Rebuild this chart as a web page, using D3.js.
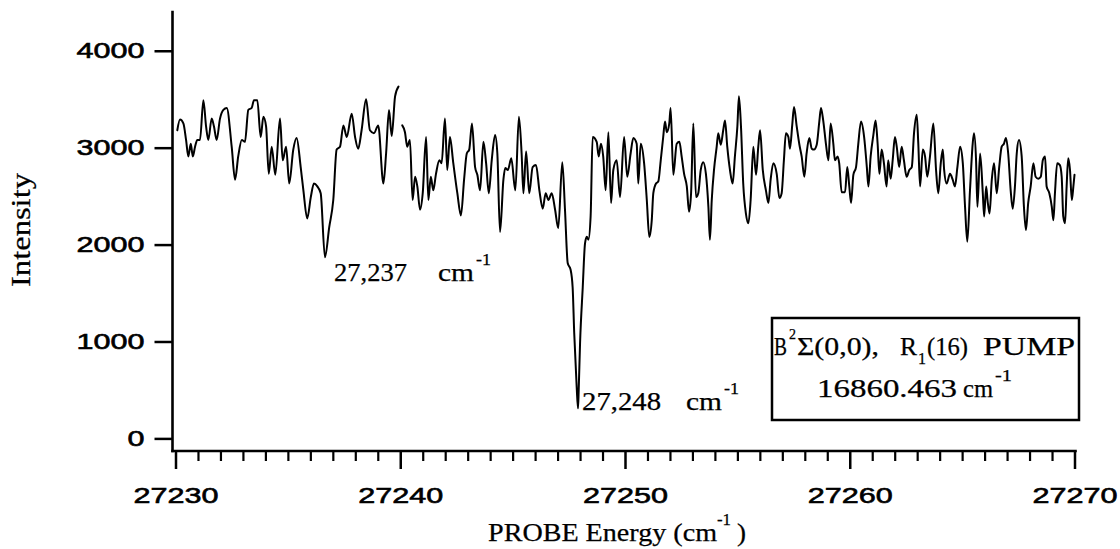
<!DOCTYPE html>
<html>
<head>
<meta charset="utf-8">
<script src="https://cdn.jsdelivr.net/npm/d3@7"></script>
<style>
  html, body { margin: 0; padding: 0; background: #fff; }
  svg { display: block; }
</style>
</head>
<body>
<svg id="chart" width="1120" height="549"></svg>
<script>
// Probe scan: [probe energy (cm^-1), intensity]. The recording has a short gap near 27240.
const spectrumLow = [
  [27230.08,3180],[27230.20,3290],[27230.35,3250],[27230.47,3080],[27230.57,2910],[27230.68,3040],
  [27230.77,2910],[27230.87,3010],[27230.97,3080],[27231.09,3080],[27231.24,3490],[27231.36,3220],
  [27231.46,3080],[27231.61,3300],[27231.71,3220],[27231.83,3080],[27231.98,3300],[27232.13,3390],
  [27232.28,3410],[27232.50,3010],[27232.65,2670],[27232.79,2910],[27232.95,3080],[27233.09,3060],
  [27233.24,3390],[27233.39,3410],[27233.49,3490],[27233.64,3490],[27233.79,3110],[27233.91,3320],
  [27234.03,3220],[27234.15,2730],[27234.28,3010],[27234.44,2720],[27234.65,3300],[27234.77,2870],
  [27234.92,3010],[27235.06,2630],[27235.24,2980],[27235.39,3100],[27235.57,2800],[27235.69,2560],
  [27235.86,2270],[27236.02,2490],[27236.16,2630],[27236.31,2600],[27236.46,2530],[27236.65,1870],
  [27236.84,2180],[27237.02,2460],[27237.17,2980],[27237.32,3010],[27237.47,3230],[27237.62,3110],
  [27237.84,3350],[27237.99,3110],[27238.13,2990],[27238.28,3180],[27238.48,3500],[27238.65,3180],
  [27238.83,3150],[27239.02,3230],[27239.25,2630],[27239.37,2940],[27239.50,3390],[27239.62,3120],
  [27239.77,3530],[27239.92,3630]
];

const spectrumHigh = [
  [27240.09,3230],[27240.21,3160],[27240.31,3010],[27240.43,3080],[27240.55,2460],[27240.66,2700],
  [27240.76,2600],[27240.88,2360],[27241.00,2530],[27241.15,3110],[27241.25,2460],[27241.36,2700],
  [27241.47,2560],[27241.59,2730],[27241.74,2870],[27241.84,2840],[27241.99,3300],[27242.09,2770],
  [27242.21,3110],[27242.36,2840],[27242.54,2530],[27242.70,2300],[27242.84,2670],[27242.96,2940],
  [27243.07,2980],[27243.19,3250],[27243.33,2800],[27243.43,2720],[27243.55,2560],[27243.70,3060],
  [27243.82,2840],[27243.94,2530],[27244.07,2870],[27244.22,3130],[27244.32,2940],[27244.44,2130],
  [27244.59,2670],[27244.67,2790],[27244.79,2770],[27244.94,2890],[27245.12,2560],[27245.28,3320],
  [27245.40,2940],[27245.48,2530],[27245.60,2960],[27245.74,2530],[27245.89,2800],[27246.04,2820],
  [27246.19,2560],[27246.34,2370],[27246.47,2530],[27246.59,2460],[27246.74,2530],[27246.89,2360],
  [27247.03,2170],[27247.21,2850],[27247.33,2360],[27247.45,1810],[27247.58,1740],[27247.67,1560],
  [27247.74,1090],[27247.85,530],[27247.91,310],[27247.94,500],[27248.00,980],[27248.12,1560],
  [27248.22,2010],[27248.30,2080],[27248.37,2050],[27248.47,2290],[27248.56,3110],[27248.74,3060],
  [27248.83,2910],[27248.93,3040],[27249.03,2910],[27249.14,2560],[27249.26,3160],[27249.38,2430],
  [27249.48,2770],[27249.63,2870],[27249.78,2490],[27249.96,3110],[27250.10,2700],[27250.25,2940],
  [27250.37,3100],[27250.52,3040],[27250.59,2630],[27250.70,3040],[27250.85,2840],[27250.97,2460],
  [27251.08,2080],[27251.19,2250],[27251.26,2530],[27251.38,2630],[27251.48,2650],[27251.59,2870],
  [27251.70,3110],[27251.78,3270],[27251.86,3160],[27251.97,3250],[27252.03,3410],[27252.15,2720],
  [27252.30,3040],[27252.42,3060],[27252.52,2910],[27252.63,2730],[27252.75,2600],[27252.85,2340],
  [27252.94,2530],[27253.04,3250],[27253.16,2490],[27253.26,2530],[27253.37,2770],[27253.48,2850],
  [27253.60,2730],[27253.71,2390],[27253.78,2050],[27253.86,2460],[27253.96,2770],[27254.08,3010],
  [27254.15,3150],[27254.26,3030],[27254.37,3180],[27254.45,3280],[27254.55,3010],[27254.67,2770],
  [27254.79,2630],[27254.89,2910],[27255.00,3220],[27255.07,3530],[27255.16,3220],[27255.26,2630],
  [27255.38,2320],[27255.49,2220],[27255.59,2460],[27255.71,3010],[27255.83,2720],[27255.93,3010],
  [27256.01,3180],[27256.13,2770],[27256.27,2560],[27256.38,2430],[27256.48,2670],[27256.60,2840],
  [27256.75,2730],[27256.87,2480],[27256.97,2530],[27257.07,2870],[27257.16,3150],[27257.27,3110],
  [27257.34,2990],[27257.44,3230],[27257.52,3420],[27257.64,3220],[27257.76,3030],[27257.86,2910],
  [27257.98,2700],[27258.08,2940],[27258.20,3100],[27258.31,2990],[27258.41,2980],[27258.53,3030],
  [27258.65,3280],[27258.72,3410],[27258.82,3280],[27258.94,3040],[27259.05,2870],[27259.15,3250],
  [27259.27,3040],[27259.34,2870],[27259.46,2910],[27259.53,2840],[27259.64,2540],[27259.79,2540],
  [27259.89,2800],[27259.98,2600],[27260.06,2430],[27260.16,2720],[27260.28,2800],[27260.38,3040],
  [27260.50,3270],[27260.64,3110],[27260.76,2800],[27260.83,2600],[27260.93,2910],[27261.05,3130],
  [27261.15,3280],[27261.24,3040],[27261.32,2730],[27261.42,2980],[27261.52,2840],[27261.64,2600],
  [27261.71,2870],[27261.82,2680],[27261.91,2870],[27262.01,3110],[27262.09,3010],[27262.20,2800],
  [27262.31,3010],[27262.41,2870],[27262.53,2700],[27262.65,2770],[27262.76,2800],[27262.86,3150],
  [27262.98,3340],[27263.05,3040],[27263.13,2600],[27263.25,2980],[27263.35,2910],[27263.45,2700],
  [27263.57,2910],[27263.72,3250],[27263.84,2770],[27263.94,2530],[27264.05,2840],[27264.14,2980],
  [27264.20,2770],[27264.31,2630],[27264.46,2730],[27264.58,2670],[27264.68,2600],[27264.79,2800],
  [27264.91,3010],[27265.03,2840],[27265.13,2390],[27265.23,2030],[27265.35,2560],[27265.47,3040],
  [27265.53,3150],[27265.62,2870],[27265.68,2390],[27265.80,2940],[27265.92,2530],[27265.98,2290],
  [27266.07,2600],[27266.13,2460],[27266.22,2320],[27266.32,2670],[27266.42,2840],[27266.54,2530],
  [27266.65,2800],[27266.76,3010],[27266.86,3040],[27266.95,3100],[27267.05,2940],[27267.16,2560],
  [27267.25,2370],[27267.35,2600],[27267.43,2940],[27267.53,3080],[27267.65,2910],[27267.75,2390],
  [27267.84,2150],[27267.94,2430],[27268.05,2600],[27268.17,2840],[27268.27,2700],[27268.39,2680],
  [27268.50,2700],[27268.59,2870],[27268.69,2910],[27268.76,2600],[27268.88,2530],[27268.99,2390],
  [27269.06,2250],[27269.13,2530],[27269.23,2840],[27269.35,2820],[27269.43,2700],[27269.50,2290],
  [27269.58,2220],[27269.65,2600],[27269.72,2890],[27269.80,2770],[27269.88,2460],[27269.95,2600],
  [27270.00,2720]
];

// Axis ticks
const xMajorTicks = [27230, 27240, 27250, 27260, 27270];
const xMinorTicks = [27231,27232,27233,27234,27235,27236,27237,27238,27239,
                     27241,27242,27243,27244,27245,27246,27247,27248,27249,
                     27251,27252,27253,27254,27255,27256,27257,27258,27259,
                     27261,27262,27263,27264,27265,27266,27267,27268,27269];
const yTicks = [0, 1000, 2000, 3000, 4000];

// Labelled dips
const peakLabels = [
  { energy: 27236.65, intensity: 1870, text: "27,237" },
  { energy: 27247.91, intensity: 310,  text: "27,248" }
];

// Pump line description
const pumpLine = { state: "B", stateSup: "2", term: "Σ(0,0),", branch: "R", branchSub: "1",
                   level: "(16)", word: "PUMP", energy: "16860.463" };

const SANS = "'Liberation Sans', Arial, Helvetica, sans-serif";
const SERIF = "'Liberation Serif', 'Times New Roman', Times, serif";

const svg = d3.select("#chart");
svg.append("rect").attr("width", 1120).attr("height", 549).attr("fill", "#fff");

const x = d3.scaleLinear().domain([27230, 27270]).range([175.5, 1074.5]);
const y = d3.scaleLinear().domain([-130, 4400]).range([451, 12]);

const axisX0 = x(27230) - 3;   // vertical axis sits just left of the first x tick
const axisY0 = y(-130);

// Text helper: fixed advance length so the wide typesetting is reproduced
function put(parent, str, px, py, size, len, family, anchor) {
  return parent.append("text")
    .attr("x", px).attr("y", py)
    .attr("font-family", family || SERIF)
    .attr("font-size", size)
    .attr("text-anchor", anchor || "start")
    .attr("textLength", len)
    .attr("lengthAdjust", "spacingAndGlyphs")
    .attr("fill", "#000")
    .attr("stroke", "#000")
    .attr("stroke-width", 0.25)
    .text(str);
}

function styleTickText(sel) {
  sel.attr("font-family", SANS).attr("font-size", 22).attr("fill", "#000")
     .attr("stroke", "#000").attr("stroke-width", 0.6)
     .attr("textLength", d => 17 * String(d).length)
     .attr("lengthAdjust", "spacingAndGlyphs");
}

// ---- y axis ----
const gy = svg.append("g")
  .attr("transform", `translate(${axisX0},0)`)
  .call(d3.axisLeft(y).tickValues(yTicks).tickSize(18).tickSizeOuter(0).tickPadding(11)
          .tickFormat(d3.format("d")));
gy.select(".domain").remove();
gy.selectAll(".tick line").attr("stroke", "#000").attr("stroke-width", 2.5);
gy.selectAll(".tick text").call(styleTickText).attr("x", -28).attr("dy", "0.32em");

// ---- x axis ----
const gxMinor = svg.append("g")
  .attr("transform", `translate(0,${axisY0})`)
  .call(d3.axisBottom(x).tickValues(xMinorTicks).tickSize(10).tickSizeOuter(0).tickFormat(""));
gxMinor.select(".domain").remove();
gxMinor.selectAll(".tick line").attr("stroke", "#000").attr("stroke-width", 2.2);

const gxMajor = svg.append("g")
  .attr("transform", `translate(0,${axisY0})`)
  .call(d3.axisBottom(x).tickValues(xMajorTicks).tickSize(18).tickSizeOuter(0).tickFormat(d3.format("d")));
gxMajor.select(".domain").remove();
gxMajor.selectAll(".tick line").attr("stroke", "#000").attr("stroke-width", 2.5);
gxMajor.selectAll(".tick text").call(styleTickText).attr("y", 52).attr("dy", 0);

// axis lines
svg.append("line")
  .attr("x1", axisX0).attr("x2", axisX0).attr("y1", y(4400)).attr("y2", axisY0)
  .attr("stroke", "#000").attr("stroke-width", 2.6).attr("stroke-linecap", "square");
svg.append("line")
  .attr("x1", axisX0).attr("x2", x(27270) + 1).attr("y1", axisY0).attr("y2", axisY0)
  .attr("stroke", "#000").attr("stroke-width", 2.6).attr("stroke-linecap", "square");

// ---- spectrum trace ----
const line = d3.line().curve(d3.curveMonotoneX).x(d => x(d[0])).y(d => y(d[1]));
[spectrumLow, spectrumHigh].forEach(seg => {
  svg.append("path")
    .datum(seg)
    .attr("d", line)
    .attr("fill", "none")
    .attr("stroke", "#000")
    .attr("stroke-width", 2)
    .attr("stroke-linejoin", "round")
    .attr("stroke-linecap", "round");
});

// ---- dip labels ----
const labelOffsets = [ { dx: 9, dy: 24, len: 73 }, { dx: 4, dy: 1.6, len: 79 } ];
peakLabels.forEach((p, i) => {
  const o = labelOffsets[i];
  const lx = x(p.energy) + o.dx, ly = y(p.intensity) + o.dy;
  put(svg, p.text, lx, ly, 26, o.len);
  put(svg, "cm", lx + 104, ly, 26, 36);
  put(svg, "-1", lx + 142, ly - 16, 16, 15);
});

// ---- axis titles ----
const yTitle = svg.append("g").attr("transform", "translate(30,230) rotate(-90)");
put(yTitle, "Intensity", 0, 0, 27, 114, SERIF, "middle");

put(svg, "PROBE Energy  (cm", 488, 541, 25, 229);
put(svg, "-1", 717, 525, 16, 14);
put(svg, ")", 737, 541, 25, 9);

// ---- pump box ----
svg.append("rect")
  .attr("x", 772).attr("y", 318).attr("width", 307).attr("height", 102)
  .attr("fill", "#fff").attr("stroke", "#000").attr("stroke-width", 2.5);
put(svg, pumpLine.state, 774, 355, 25, 13);
put(svg, pumpLine.stateSup, 789, 339, 15, 7);
put(svg, pumpLine.term, 797, 355, 25, 82);
put(svg, pumpLine.branch, 900, 355, 25, 17);
put(svg, pumpLine.branchSub, 918, 364, 16, 8);
put(svg, pumpLine.level, 927, 355, 25, 41);
put(svg, pumpLine.word, 983, 355, 25, 92);
put(svg, pumpLine.energy, 817, 397, 25, 140);
put(svg, "cm", 963, 397, 25, 30);
put(svg, "-1", 995, 381, 16, 17);
</script>
</body>
</html>
